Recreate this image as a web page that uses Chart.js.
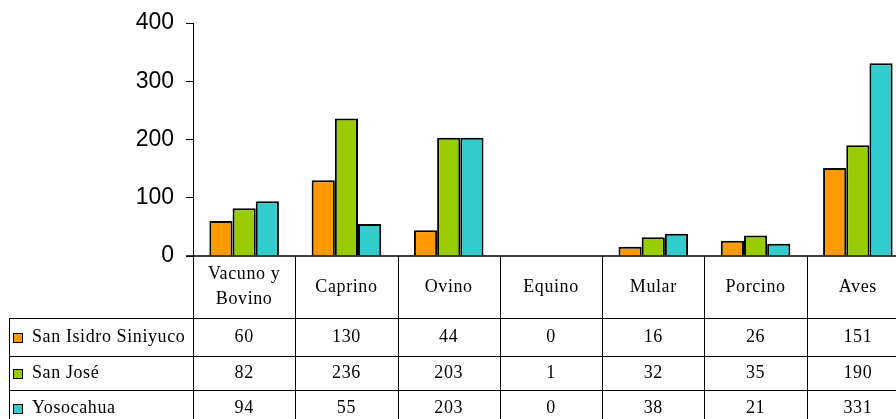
<!DOCTYPE html>
<html>
<head>
<meta charset="utf-8">
<script src="https://cdn.jsdelivr.net/npm/chart.js@4"></script>
<style>
  html, body { margin: 0; padding: 0; background: #fff; overflow: hidden; }
  #wrap { position: relative; width: 909px; height: 419px; }
</style>
</head>
<body>
<div id="wrap"><canvas id="c" width="909" height="419"></canvas></div>
<script>
const categories = [['Vacuno y', 'Bovino'], 'Caprino', 'Ovino', 'Equino', 'Mular', 'Porcino', 'Aves'];
const seriesNames = ['San Isidro Siniyuco', 'San José', 'Yosocahua'];
const sanIsidro = [60, 130, 44, 0, 16, 26, 151];
const sanJose = [82, 236, 203, 1, 32, 35, 190];
const yosocahua = [94, 55, 203, 0, 38, 21, 331];
const seriesColors = ['#FF9900', '#99CC00', '#33CCCC'];
const yTicks = [0, 100, 200, 300, 400];

const seriesValues = [sanIsidro, sanJose, yosocahua];

const tableFont = '18px "Liberation Serif", "Times New Roman", serif';

const tablePlugin = {
  id: 'dataTable',
  afterDraw(chart) {
    const ctx = chart.ctx;
    const xs = chart.scales.x;
    const area = chart.chartArea;
    const n = categories.length;
    const catW = (area.right - area.left) / n;
    const top = area.bottom;
    const headerBottom = top + 62;
    const rowLines = [headerBottom, headerBottom + 38, headerBottom + 72, headerBottom + 108];
    const tableLeft = 9;
    const bottomY = chart.height + 5;

    ctx.save();
    ctx.strokeStyle = '#000';
    // x axis line
    ctx.lineWidth = 1.5;
    ctx.beginPath();
    ctx.moveTo(area.left - 7, top);
    ctx.lineTo(chart.width, top);
    ctx.stroke();

    ctx.lineWidth = 1;
    // vertical lines at category boundaries
    for (let i = 0; i <= n; i++) {
      const x = Math.round(xs.getPixelForValue(0) - catW / 2 + i * catW) + 0.5;
      ctx.beginPath();
      ctx.moveTo(x, top);
      ctx.lineTo(x, bottomY);
      ctx.stroke();
    }
    // left border of legend column
    ctx.beginPath();
    ctx.moveTo(tableLeft + 0.5, headerBottom);
    ctx.lineTo(tableLeft + 0.5, bottomY);
    ctx.stroke();
    // horizontal lines
    for (let r = 0; r < 3; r++) {
      const y = Math.round(rowLines[r]) + 0.5;
      ctx.beginPath();
      ctx.moveTo(tableLeft, y);
      ctx.lineTo(chart.width, y);
      ctx.stroke();
    }

    ctx.fillStyle = '#000';
    ctx.font = tableFont;
    if ('letterSpacing' in ctx) ctx.letterSpacing = '0.6px';
    ctx.textAlign = 'center';
    ctx.textBaseline = 'middle';
    // header labels
    for (let i = 0; i < n; i++) {
      const cx = xs.getPixelForValue(i);
      const lab = categories[i];
      const cy = (top + headerBottom) / 2;
      if (Array.isArray(lab)) {
        const lh = 25;
        lab.forEach((t, k) => {
          ctx.fillText(t, cx, cy - (lab.length - 1) * lh / 2 + k * lh);
        });
      } else {
        ctx.fillText(lab, cx, cy);
      }
    }
    // rows
    for (let r = 0; r < 3; r++) {
      const y0 = rowLines[r];
      const y1 = rowLines[r + 1];
      const cy = (y0 + y1) / 2;
      // legend key
      const ky = Math.round(cy) - 4;
      ctx.fillStyle = '#000';
      ctx.fillRect(13, ky, 10, 10);
      ctx.fillStyle = seriesColors[r];
      ctx.fillRect(14, ky + 1, 8, 8);
      ctx.fillStyle = '#000';
      ctx.textAlign = 'left';
      ctx.fillText(seriesNames[r], 32, cy);
      ctx.textAlign = 'center';
      for (let i = 0; i < n; i++) {
        ctx.fillText(String(seriesValues[r][i]), xs.getPixelForValue(i), cy);
      }
    }
    ctx.restore();
  }
};

new Chart(document.getElementById('c'), {
  type: 'bar',
  data: {
    labels: categories.map(c => Array.isArray(c) ? c.join(' ') : c),
    datasets: seriesNames.map((name, i) => ({
      label: name,
      data: seriesValues[i],
      backgroundColor: seriesColors[i],
      borderColor: '#000',
      borderWidth: 2,
      categoryPercentage: 0.68,
      barPercentage: 1.0
    }))
  },
  options: {
    responsive: false,
    animation: false,
    events: [],
    layout: { padding: { top: 23, bottom: 163, left: 0, right: 0 } },
    plugins: { legend: { display: false }, tooltip: { enabled: false } },
    scales: {
      x: { display: false, offset: true },
      y: {
        min: 0,
        max: 400,
        afterBuildTicks(scale) { scale.ticks = yTicks.map(v => ({ value: v })); },
        afterFit(scale) { scale.width = 193; scale.paddingTop = 0; scale.paddingBottom = 0; },
        grid: { drawOnChartArea: false, drawTicks: true, tickLength: 7, color: '#000', lineWidth: 1 },
        border: { display: true, color: '#000', width: 1 },
        ticks: {
          color: '#000',
          padding: 12,
          font: { family: '"Liberation Sans", Arial, sans-serif', size: 23 }
        }
      }
    }
  },
  plugins: [tablePlugin]
});
</script>
</body>
</html>
